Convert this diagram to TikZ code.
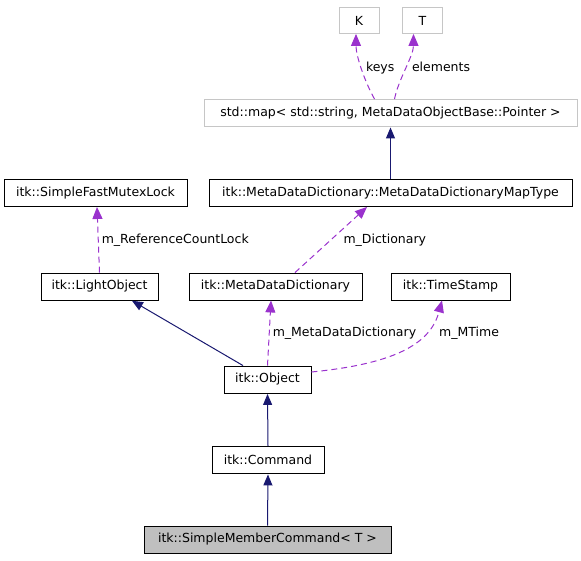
\documentclass[tikz,border=0pt]{standalone}
\usepackage{fontspec}
\setmainfont{DejaVu Sans}
\usetikzlibrary{positioning,arrows.meta,calc}
\definecolor{inhcol}{HTML}{191970}
\definecolor{mbrcol}{HTML}{9A32CD}

\begin{document}
\begin{tikzpicture}[
  x=1pt, y=-1pt,
  cls/.style={draw=black, line width=0.9pt, fill=white, inner sep=0pt, minimum height=27, font=\fontsize{12.5}{14}\selectfont},
  extcls/.style={cls, draw=gray!45},
  curcls/.style={cls, fill=gray!50},
  mbrlbl/.style={font=\fontsize{12.5}{14}\selectfont, inner sep=1pt, anchor=west},
  inherit/.style={draw=inhcol, line width=1pt, -{Triangle[length=11, width=9]}, shorten >=0.5},
  member/.style={draw=mbrcol, line width=1pt, dash pattern=on 6pt off 4pt, -{Triangle[length=12, width=10]}}
]
\useasboundingbox (0,0) rectangle (581,560);

\node[extcls, minimum width=40, minimum height=26] (K) at (359,20.5) {K};
\node[extcls, minimum width=40, minimum height=26] (T) at (422.5,20.5) {T};
\node[extcls, minimum width=373] (Map) at (390.5,113) {std::map< std::string, MetaDataObjectBase::Pointer >};
\node[cls, minimum width=183] (MutexLock) at (95.5,193) {itk::SimpleFastMutexLock};
\node[cls, minimum width=363] (MapType) at (390.5,193) {itk::MetaDataDictionary::MetaDataDictionaryMapType};
\node[cls, minimum width=117] (LightObj) at (99.5,286.5) {itk::LightObject};
\node[cls, minimum width=173] (MetaDict) at (275.5,286.5) {itk::MetaDataDictionary};
\node[cls, minimum width=119] (TimeStamp) at (450.5,286.5) {itk::TimeStamp};
\node[cls, minimum width=87] (Obj) at (267.5,379.5) {itk::Object};
\node[cls, minimum width=112] (Cmd) at (268,460) {itk::Command};
\node[curcls, minimum width=247] (SimpleCmd) at (267.5,539.5) {itk::SimpleMemberCommand< T >};

% template arguments of the map
\draw[member] ($(Map.north)+(-16,0)$) .. controls +(-10,-18) and +(0,22) ..
  node[mbrlbl, pos=0.5, xshift=3] {keys} ($(K.south)+(-3,0)$);
\draw[member] ($(Map.north)+(4,0)$) .. controls +(4,-20) and +(0,22) ..
  node[mbrlbl, pos=0.5, xshift=5] {elements} ($(T.south)+(-9,0)$);

% map type derives from std::map
\draw[inherit] (MapType.north) -- (Map.south);

% members
\draw[member] (LightObj.north) --
  node[mbrlbl, pos=0.5, xshift=2] {m\_ReferenceCountLock} ($(MutexLock.south)+(1.5,0)$);
\draw[member] ($(MetaDict.north)+(19.5,0)$) --
  node[mbrlbl, pos=0.5, xshift=11] {m\_Dictionary} ($(MapType.south)+(-23.5,0)$);
\draw[member] (Obj.north) --
  node[mbrlbl, pos=0.5, xshift=2] {m\_MetaDataDictionary} ($(MetaDict.south)+(-4.5,0)$);
\draw[member] ($(Obj.east)+(0,-7.5)$) .. controls +(80,-8) and +(-12,45) .. ($(TimeStamp.south)+(-8.5,0)$);
\node[mbrlbl] (MTimeLbl) at (438,333) {m\_MTime};

% inheritance chain
\draw[inherit] ($(Obj.north)+(-24.5,0)$) -- ($(LightObj.south)+(32,0)$);
\draw[inherit] (Cmd.north) -- (Obj.south);
\draw[inherit] (SimpleCmd.north) -- (Cmd.south);

\end{tikzpicture}
\end{document}
